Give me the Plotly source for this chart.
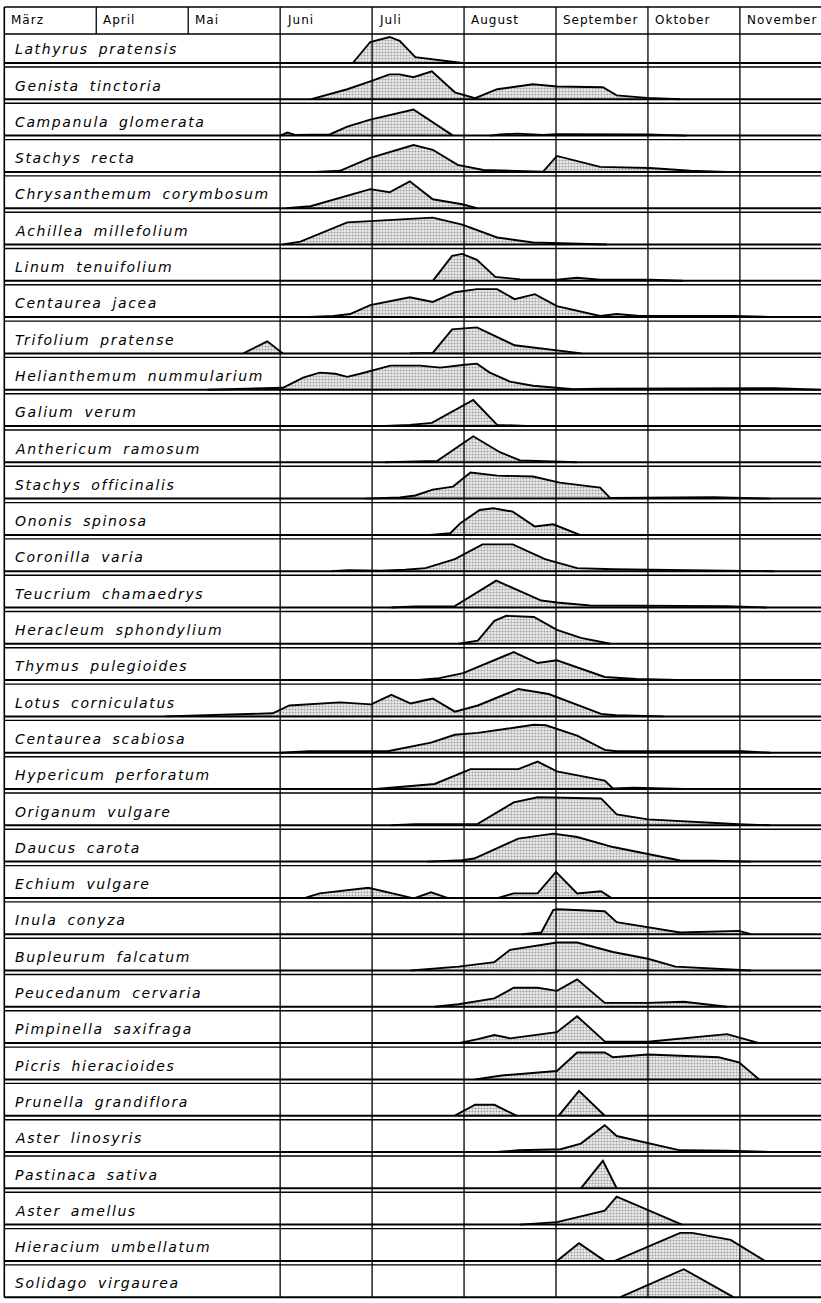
import plotly.graph_objects as go

# Month columns (position 0 = start of März)
MONTHS = ["März", "April", "Mai", "Juni", "Juli", "August",
          "September", "Oktober", "November"]

SPECIES = [
    "Lathyrus pratensis", "Genista tinctoria", "Campanula glomerata",
    "Stachys recta", "Chrysanthemum corymbosum", "Achillea millefolium",
    "Linum tenuifolium", "Centaurea jacea", "Trifolium pratense",
    "Helianthemum nummularium", "Galium verum", "Anthericum ramosum",
    "Stachys officinalis", "Ononis spinosa", "Coronilla varia",
    "Teucrium chamaedrys", "Heracleum sphondylium", "Thymus pulegioides",
    "Lotus corniculatus", "Centaurea scabiosa", "Hypericum perforatum",
    "Origanum vulgare", "Daucus carota", "Echium vulgare", "Inula conyza",
    "Bupleurum falcatum", "Peucedanum cervaria", "Pimpinella saxifraga",
    "Picris hieracioides", "Prunella grandiflora", "Aster linosyris",
    "Pastinaca sativa", "Aster amellus", "Hieracium umbellatum",
    "Solidago virgaurea",
]

# Flowering profiles: (month position, relative intensity 0-10); None starts a new patch
LATHYRUS_PRATENSIS = [(3.79, 0), (3.98, 7.5), (4.19, 9.3), (4.30, 7.9), (4.47, 2.1), (4.98, 0)]
GENISTA_TINCTORIA = [(3.33, 0), (3.73, 3.6), (3.98, 6.4), (4.19, 8.9), (4.30, 8.9), (4.45, 7.9),
                     (4.65, 10), (4.90, 2.5), (5.12, 0.4), (5.36, 3.6), (5.75, 5.4), (6.01, 4.6),
                     (6.51, 4.3), (6.66, 1.4), (6.99, 0.5), (7.35, 0)]
CAMPANULA_GLOMERATA = [(3.00, 0), (3.08, 1.1), (3.17, 0.2), (3.54, 0.4), (3.73, 3.2), (3.98, 5.7),
                       (4.45, 9.3), (4.88, 0), None,
                       (5.28, 0), (5.39, 0.4), (5.58, 0.7), (5.86, 0.2), (6.01, 0.5), (6.99, 0.4),
                       (7.42, 0)]
STACHYS_RECTA = [(3.38, 0), (3.65, 0.4), (3.98, 5.0), (4.45, 9.6), (4.66, 7.9), (4.93, 2.5),
                 (5.21, 0.7), (5.61, 0.4), (5.86, 0.1), (6.01, 5.7), (6.48, 1.8), (7.02, 1.4),
                 (7.46, 0.4), (7.86, 0)]
CHRYSANTHEMUM_CORYMBOSUM = [(3.07, 0), (3.33, 0.7), (3.98, 6.8), (4.19, 5.7), (4.41, 9.6),
                            (4.66, 3.2), (4.98, 1.4), (5.14, 0)]
ACHILLEA_MILLEFOLIUM = [(3.03, 0), (3.22, 1.0), (3.73, 7.9), (4.09, 8.6), (4.66, 9.6), (4.98, 7.1),
                        (5.36, 2.5), (5.75, 0.7), (6.15, 0.4), (6.55, 0)]
LINUM_TENUIFOLIUM = [(4.66, 0), (4.87, 8.9), (4.98, 9.6), (5.14, 7.5), (5.34, 1.4), (5.61, 0.5),
                     (6.01, 0.4), (6.23, 1.1), (6.48, 0.4), (7.02, 0.4), (7.38, 0)]
CENTAUREA_JACEA = [(3.25, 0), (3.58, 0.4), (3.76, 1.1), (3.98, 4.3), (4.41, 7.1), (4.66, 5.4),
                   (4.90, 8.9), (5.14, 10), (5.36, 10), (5.55, 6.4), (5.77, 8.2), (6.01, 3.9),
                   (6.48, 0.4), (6.66, 1.1), (6.91, 0.4), (7.93, 0.4), (8.40, 0)]
TRIFOLIUM_PRATENSE = [(2.60, 0), (2.86, 4.3), (3.03, 0), None,
                      (4.41, 0), (4.66, 0.2), (4.87, 8.6), (5.14, 9.3), (5.55, 2.9), (5.97, 1.1),
                      (6.28, 0)]
HELIANTHEMUM_NUMMULARIUM = [(2.21, 0), (2.73, 0.4), (3.03, 0.7), (3.25, 4.3), (3.43, 6.1),
                            (3.60, 5.7), (3.73, 4.6), (3.87, 5.7), (4.20, 8.6), (4.52, 8.6),
                            (4.74, 7.9), (5.01, 8.9), (5.14, 9.3), (5.28, 6.1), (5.50, 2.9),
                            (5.75, 1.4), (6.19, 0.2), (6.48, 0.4), (7.02, 0.4), (8.00, 0.5),
                            (8.38, 0.5), (8.87, 0)]
GALIUM_VERUM = [(4.14, 0), (4.41, 0.4), (4.65, 1.1), (5.10, 9.3), (5.36, 0.4), (5.68, 0)]
ANTHERICUM_RAMOSUM = [(4.14, 0), (4.52, 0.4), (4.71, 0.5), (5.10, 9.3), (5.39, 3.6), (5.61, 0.7),
                      (5.97, 0.4), (6.23, 0)]
STACHYS_OFFICINALIS = [(3.92, 0), (4.30, 0.4), (4.47, 1.1), (4.66, 3.2), (4.88, 4.3), (5.07, 9.3),
                       (5.36, 8.2), (5.75, 7.9), (6.04, 5.7), (6.48, 3.9), (6.59, 0.2),
                       (6.99, 0.4), (7.71, 0.5), (8.33, 0)]
ONONIS_SPINOSA = [(4.63, 0), (4.85, 0.6), (4.96, 4.2), (5.17, 8.9), (5.32, 9.5), (5.53, 8.3),
                  (5.77, 3.0), (5.97, 3.8), (6.26, 0)]
CORONILLA_VARIA = [(3.56, 0), (3.74, 0.4), (4.09, 0.2), (4.36, 0.5), (4.58, 1.1), (4.90, 4.3),
                   (5.20, 9.6), (5.53, 9.6), (5.88, 4.3), (6.23, 1.1), (6.62, 0.7), (7.26, 0.4),
                   (8.37, 0)]
TEUCRIUM_CHAMAEDRYS = [(4.21, 0), (4.47, 0.4), (4.90, 0.5), (5.35, 9.6), (5.59, 6.1), (5.84, 2.5),
                       (6.01, 1.8), (6.37, 0.7), (7.86, 0.5), (8.29, 0)]
HERACLEUM_SPHONDYLIUM = [(4.94, 0), (5.15, 1.1), (5.33, 8.2), (5.46, 10), (5.76, 9.6), (6.01, 5.0),
                         (6.27, 2.1), (6.53, 0.4), (6.59, 0)]
THYMUS_PULEGIOIDES = [(4.47, 0), (4.73, 0.7), (4.99, 2.5), (5.54, 10), (5.80, 6.1), (6.01, 7.1),
                      (6.53, 1.1), (6.87, 0.4), (7.43, 0)]
LOTUS_CORNICULATUS = [(1.75, 0), (2.13, 0.4), (2.92, 1.1), (3.10, 3.9), (3.65, 5.0), (3.99, 4.3),
                      (4.21, 7.7), (4.42, 4.6), (4.66, 6.4), (4.90, 1.7), (5.15, 3.9), (5.59, 9.8),
                      (5.92, 8.0), (6.49, 0.9), (6.65, 0.4), (7.17, 0)]
CENTAUREA_SCABIOSA = [(3.01, 0), (3.31, 0.5), (4.17, 0.5), (4.64, 3.6), (4.90, 6.4), (5.15, 7.1),
                      (5.54, 8.9), (5.76, 10), (5.89, 9.8), (6.23, 6.1), (6.53, 1.0), (6.66, 0.5),
                      (8.03, 0.5), (8.33, 0)]
HYPERICUM_PERFORATUM = [(4.04, 0), (4.21, 0.5), (4.68, 1.8), (5.07, 7.1), (5.59, 7.1), (5.80, 9.8),
                        (6.01, 6.3), (6.53, 3.0), (6.62, 0.2), (6.85, 0.5), (7.39, 0)]
ORIGANUM_VULGARE = [(4.21, 0), (4.47, 0.4), (5.15, 0.5), (5.54, 8.2), (5.80, 10), (6.49, 9.6),
                    (6.66, 3.9), (7.00, 2.1), (7.99, 0.4), (8.33, 0)]
DAUCUS_CAROTA = [(4.60, 0), (4.98, 0.5), (5.11, 1.1), (5.59, 8.2), (5.97, 10), (6.23, 8.8),
                 (6.62, 5.2), (7.35, 0.4), (7.69, 0.3), (8.12, 0)]
ECHIUM_VULGARE = [(3.27, 0), (3.43, 1.6), (3.96, 3.6), (4.38, 0.6), (4.43, 0), None,
                  (4.47, 0), (4.64, 2.0), (4.82, 0), None,
                  (5.37, 0), (5.54, 1.6), (5.80, 1.6), (6.00, 9.3), (6.23, 1.6), (6.49, 2.4),
                  (6.60, 0)]
INULA_CONYZA = [(5.63, 0), (5.84, 0.6), (5.97, 8.6), (6.01, 8.9), (6.53, 8.2), (6.66, 4.3),
                (7.35, 0.6), (7.99, 1.2), (8.12, 0)]
BUPLEURUM_FALCATUM = [(4.42, 0), (4.64, 0.7), (4.94, 1.4), (5.33, 3.0), (5.50, 7.4), (6.01, 10),
                      (6.23, 10), (6.62, 6.6), (7.00, 4.2), (7.30, 1.4), (7.73, 0.7), (8.12, 0)]
PEUCEDANUM_CERVARIA = [(4.68, 0), (4.94, 0.9), (5.33, 3.0), (5.54, 6.8), (5.80, 6.8), (6.01, 5.7),
                       (6.23, 9.8), (6.53, 1.4), (7.00, 1.4), (7.39, 1.8), (7.86, 0)]
PIMPINELLA_SAXIFRAGA = [(4.94, 0), (5.15, 1.4), (5.33, 2.9), (5.50, 1.7), (6.01, 3.9), (6.23, 9.6),
                        (6.53, 0.6), (7.00, 0.5), (7.86, 3.2), (8.21, 0)]
PICRIS_HIERACIOIDES = [(5.12, 0), (5.41, 1.4), (6.01, 3.0), (6.23, 9.6), (6.53, 9.6), (6.62, 7.9),
                       (7.00, 8.9), (7.77, 7.9), (7.99, 6.1), (8.21, 0)]
PRUNELLA_GRANDIFLORA = [(4.90, 0), (5.12, 3.9), (5.33, 3.9), (5.57, 0), None,
                        (6.03, 0), (6.25, 8.9), (6.53, 0)]
ASTER_LINOSYRIS = [(5.35, 0), (5.59, 0.6), (6.05, 1.0), (6.27, 3.0), (6.53, 9.6), (6.66, 5.7),
                   (7.35, 0.6), (7.86, 0.5), (8.33, 0)]
PASTINACA_SATIVA = [(6.27, 0), (6.51, 9.8), (6.66, 0)]
ASTER_AMELLUS = [(5.61, 0), (6.01, 0.9), (6.53, 5.0), (6.66, 10), (7.37, 0)]
HIERACIUM_UMBELLATUM = [(6.01, 0), (6.25, 6.3), (6.53, 0), None,
                        (6.64, 0), (7.35, 10), (7.48, 10), (7.90, 7.5), (8.27, 0)]
SOLIDAGO_VIRGAUREA = [(6.70, 0), (7.39, 10), (7.93, 0)]

PROFILES = [
    LATHYRUS_PRATENSIS, GENISTA_TINCTORIA, CAMPANULA_GLOMERATA, STACHYS_RECTA,
    CHRYSANTHEMUM_CORYMBOSUM, ACHILLEA_MILLEFOLIUM, LINUM_TENUIFOLIUM, CENTAUREA_JACEA,
    TRIFOLIUM_PRATENSE, HELIANTHEMUM_NUMMULARIUM, GALIUM_VERUM, ANTHERICUM_RAMOSUM,
    STACHYS_OFFICINALIS, ONONIS_SPINOSA, CORONILLA_VARIA, TEUCRIUM_CHAMAEDRYS,
    HERACLEUM_SPHONDYLIUM, THYMUS_PULEGIOIDES, LOTUS_CORNICULATUS, CENTAUREA_SCABIOSA,
    HYPERICUM_PERFORATUM, ORIGANUM_VULGARE, DAUCUS_CAROTA, ECHIUM_VULGARE, INULA_CONYZA,
    BUPLEURUM_FALCATUM, PEUCEDANUM_CERVARIA, PIMPINELLA_SAXIFRAGA, PICRIS_HIERACIOIDES,
    PRUNELLA_GRANDIFLORA, ASTER_LINOSYRIS, PASTINACA_SATIVA, ASTER_AMELLUS,
    HIERACIUM_UMBELLATUM, SOLIDAGO_VIRGAUREA,
]

# ---- layout geometry (y in row units, row i has its baseline at y = i) ----
W, H = 821, 1303
PX_PER_ROW = 36.3
TOP_PX = 63.0                       # pixel position of the first baseline
X_PER_MONTH_PX = 91.95
X0_PX = 4.3
HEIGHT_SCALE = 0.0771               # row units per intensity unit
HEADER_TOP = -1.543
HEADER_BOTTOM = -0.799
GAP = 0.11                          # spacing of the double line under each row
N = len(SPECIES)
LABEL_COLUMNS = 3                   # März–Mai columns hold the species names

fig = go.Figure()

for i, prof in enumerate(PROFILES):
    segs, cur = [], []
    for p in prof:
        if p is None:
            segs.append(cur)
            cur = []
        else:
            cur.append(p)
    segs.append(cur)
    for seg in segs:
        xs = [p[0] for p in seg]
        ys = [i - p[1] * HEIGHT_SCALE for p in seg]
        fig.add_trace(go.Scatter(
            x=xs, y=ys, mode="lines", fill="toself",
            line=dict(color="black", width=1.9),
            fillcolor="#e6e6e6",
            fillpattern=dict(shape=".", size=3, solidity=0.4,
                             fgcolor="#555555", bgcolor="#ececec"),
            hoverinfo="skip", showlegend=False,
        ))

shapes = []
line_kw = dict(type="line", xref="x", yref="y", layer="above")
XMAX = 9.2
# header box
shapes.append(dict(line_kw, x0=0, x1=XMAX, y0=HEADER_TOP, y1=HEADER_TOP,
                   line=dict(color="black", width=1.6)))
shapes.append(dict(line_kw, x0=0, x1=XMAX, y0=HEADER_BOTTOM, y1=HEADER_BOTTOM,
                   line=dict(color="black", width=1.6)))
for m in range(1, len(MONTHS)):
    shapes.append(dict(line_kw, x0=m, x1=m, y0=HEADER_TOP, y1=HEADER_BOTTOM,
                       line=dict(color="black", width=1.3)))
# left border
shapes.append(dict(line_kw, x0=0, x1=0, y0=HEADER_TOP, y1=N - 1,
                   line=dict(color="black", width=1.6)))
# month dividers through the rows
for m in range(LABEL_COLUMNS, len(MONTHS)):
    shapes.append(dict(line_kw, x0=m, x1=m, y0=HEADER_BOTTOM, y1=N - 1,
                       line=dict(color="black", width=1.3)))
# baselines and the double line below each row
for i in range(N):
    shapes.append(dict(line_kw, x0=0, x1=XMAX, y0=i, y1=i,
                       line=dict(color="black", width=2)))
    if i < N - 1:
        shapes.append(dict(line_kw, x0=0, x1=XMAX, y0=i + GAP, y1=i + GAP,
                           line=dict(color="black", width=1.4)))

annotations = []
for m, name in enumerate(MONTHS):
    annotations.append(dict(
        x=m + 0.05, y=(HEADER_TOP + HEADER_BOTTOM) / 2, xref="x", yref="y",
        text=name, showarrow=False, xanchor="left", yanchor="middle",
        font=dict(family="DejaVu Sans", size=12, color="black")))
for i, name in enumerate(SPECIES):
    annotations.append(dict(
        x=0.09, y=i - 0.38, xref="x", yref="y",
        text=name, showarrow=False, xanchor="left", yanchor="middle",
        font=dict(family="DejaVu Sans", size=14, color="black", style="italic")))

fig.update_layout(
    width=W, height=H,
    margin=dict(l=0, r=0, t=0, b=0),
    paper_bgcolor="white", plot_bgcolor="white",
    shapes=shapes, annotations=annotations,
    xaxis=dict(range=[-X0_PX / X_PER_MONTH_PX, (W - X0_PX) / X_PER_MONTH_PX],
               visible=False, fixedrange=True),
    yaxis=dict(range=[(H - TOP_PX) / PX_PER_ROW, -TOP_PX / PX_PER_ROW],
               visible=False, fixedrange=True),
)

# wide technical lettering: open up the tracking of the label texts,
# keeping each label's left edge where it was
SPACING_JS = """
var gd = document.getElementById('{plot_id}');
gd.querySelectorAll('.annotation-text').forEach(function (t) {
    var before = t.getBBox().x;
    if (window.getComputedStyle(t).fontStyle === 'italic') {
        t.style.letterSpacing = '1.6px';
        t.style.wordSpacing = '4px';
    } else {
        t.style.letterSpacing = '1px';
    }
    var dx = before - t.getBBox().x;
    var tr = t.getAttribute('transform') || '';
    t.setAttribute('transform', tr + ' translate(' + dx + ',0)');
});
"""

fig.write_html("out.html", post_script=SPACING_JS)
